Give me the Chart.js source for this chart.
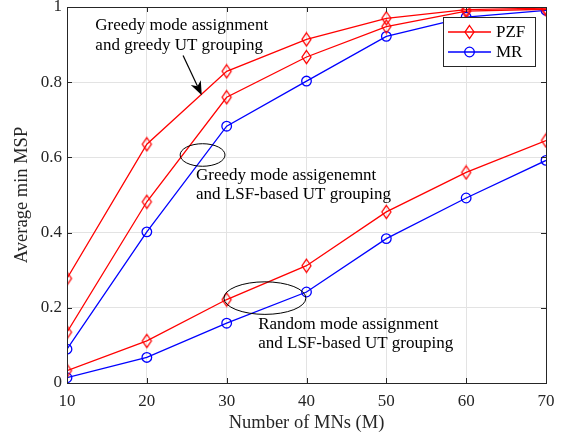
<!DOCTYPE html>
<html><head><meta charset="utf-8">
<script src="https://cdn.jsdelivr.net/npm/chart.js@4.4.0/dist/chart.umd.min.js"></script>
<style>html,body{margin:0;padding:0;background:#fff}#wrap{width:566px;height:438px}</style>
</head><body><div id="wrap"><canvas id="c" width="566" height="438"></canvas></div>
<script>
// ---- data ----
const MNs = [10, 20, 30, 40, 50, 60, 70];
const greedyGreedyPZF = [0.278, 0.635, 0.829, 0.914, 0.970, 0.993, 0.997];
const greedyLSFPZF    = [0.135, 0.482, 0.760, 0.867, 0.948, 0.989, 0.994];
const greedyLSFMR     = [0.090, 0.402, 0.683, 0.803, 0.922, 0.973, 0.991];
const randomLSFPZF    = [0.033, 0.112, 0.222, 0.312, 0.455, 0.560, 0.645];
const randomLSFMR     = [0.014, 0.068, 0.159, 0.242, 0.384, 0.492, 0.592];
const xTicks = [10, 20, 30, 40, 50, 60, 70];
const yTicks = [0, 0.2, 0.4, 0.6, 0.8, 1];
const legendLabels = ['PZF', 'MR'];
const xLabel = 'Number of MNs (M)';
const yLabel = 'Average min MSP';
const noteTexts = [
  ['Greedy mode assignment', 'and greedy UT grouping'],
  ['Greedy mode assigenemnt', 'and LSF-based UT grouping'],
  ['Random mode assignment', 'and LSF-based UT grouping']
];

// ---- styles ----
const FONT = '"Liberation Serif", "DejaVu Serif", serif';
const AXC = '#262626';
const RED = '#ff0000', BLUE = '#0000ff';

function diamondCanvas(color) {
  const c = document.createElement('canvas');
  c.width = 13; c.height = 16;
  const g = c.getContext('2d');
  g.strokeStyle = color; g.lineWidth = 1.3;
  g.beginPath();
  g.moveTo(6.5, 1.5); g.lineTo(11, 8); g.lineTo(6.5, 14.5); g.lineTo(2, 8); g.closePath();
  g.stroke();
  return c;
}
const diamondRed = diamondCanvas(RED);

function pts(vals) { return MNs.map((m, i) => ({x: m, y: vals[i]})); }
function ds(label, vals, color, marker, inLegend) {
  return {
    label, data: pts(vals), borderColor: color, backgroundColor: 'rgba(0,0,0,0)',
    borderWidth: 1.3, pointStyle: marker, pointRadius: 4.8, pointBorderWidth: 1.3,
    pointBorderColor: color, pointBackgroundColor: 'rgba(0,0,0,0)', tension: 0,
    inLegend
  };
}

const datasets = [
  ds(legendLabels[0], greedyGreedyPZF, RED, diamondRed, true),
  ds(legendLabels[0], greedyLSFPZF, RED, diamondRed, false),
  ds(legendLabels[1], greedyLSFMR, BLUE, 'circle', true),
  ds(legendLabels[0], randomLSFPZF, RED, diamondRed, false),
  ds(legendLabels[1], randomLSFMR, BLUE, 'circle', false)
];

// annotation placement (data coordinates)
const notes = {
  texts: [
    {x: 13.55, y: [0.9376, 0.8845]},
    {x: 26.16, y: [0.539, 0.489]},
    {x: 33.95, y: [0.1426, 0.0922]}
  ],
  ellipses: [
    {cx: 26.98, cy: 0.6064, rx: 2.81, ry: 0.030},
    {cx: 34.79, cy: 0.2258, rx: 5.13, ry: 0.0433}
  ],
  arrow: {x1: 24.54, y1: 0.871, x2: 26.88, y2: 0.765}
};

const overlay = {
  id: 'overlay',
  afterDatasetsDraw(chart) {
    const {ctx, chartArea: a, scales: {x, y}} = chart;
    ctx.save();
    // frame
    ctx.strokeStyle = AXC; ctx.lineWidth = 1;
    ctx.strokeRect(Math.round(a.left) + 0.5, Math.round(a.top) + 0.5,
      Math.round(a.right - a.left), Math.round(a.bottom - a.top));
    // inner ticks
    const tl = 5;
    ctx.beginPath();
    xTicks.forEach(v => {
      const px = Math.round(x.getPixelForValue(v)) + 0.5;
      ctx.moveTo(px, a.bottom); ctx.lineTo(px, a.bottom - tl);
      ctx.moveTo(px, a.top); ctx.lineTo(px, a.top + tl);
    });
    yTicks.forEach(v => {
      const py = Math.round(y.getPixelForValue(v)) + 0.5;
      ctx.moveTo(a.left, py); ctx.lineTo(a.left + tl, py);
      ctx.moveTo(a.right, py); ctx.lineTo(a.right - tl, py);
    });
    ctx.stroke();

    // annotations text
    ctx.fillStyle = '#000';
    ctx.font = '17px ' + FONT;
    ctx.textAlign = 'left'; ctx.textBaseline = 'alphabetic';
    notes.texts.forEach((t, i) => {
      noteTexts[i].forEach((line, j) => {
        ctx.fillText(line, x.getPixelForValue(t.x), y.getPixelForValue(t.y[j]));
      });
    });
    // ellipses
    ctx.strokeStyle = '#000'; ctx.lineWidth = 1;
    notes.ellipses.forEach(e => {
      const cx = x.getPixelForValue(e.cx), cy = y.getPixelForValue(e.cy);
      const rx = x.getPixelForValue(e.cx + e.rx) - cx;
      const ry = cy - y.getPixelForValue(e.cy + e.ry);
      ctx.beginPath(); ctx.ellipse(cx, cy, rx, ry, 0, 0, Math.PI * 2); ctx.stroke();
    });
    // arrow
    const ar = notes.arrow;
    const x1 = x.getPixelForValue(ar.x1), y1 = y.getPixelForValue(ar.y1);
    const x2 = x.getPixelForValue(ar.x2), y2 = y.getPixelForValue(ar.y2);
    const ang = Math.atan2(y2 - y1, x2 - x1);
    const hl = 14, hw = 5.5, back = 4;
    const ux = Math.cos(ang), uy = Math.sin(ang);
    const bx = x2 - hl * ux, by = y2 - hl * uy;
    const nx = bx + back * ux, ny = by + back * uy;
    ctx.lineWidth = 1.2;
    ctx.beginPath(); ctx.moveTo(x1, y1); ctx.lineTo(nx, ny); ctx.stroke();
    ctx.fillStyle = '#000';
    ctx.beginPath();
    ctx.moveTo(x2, y2);
    ctx.lineTo(bx + hw * uy, by - hw * ux);
    ctx.lineTo(nx, ny);
    ctx.lineTo(bx - hw * uy, by + hw * ux);
    ctx.closePath(); ctx.fill();

    // legend
    const items = chart.data.datasets.filter(d => d.inLegend);
    const lx = a.right - 103, ly = a.top + 10, lw = 92, lh = 49;
    ctx.fillStyle = '#fff';
    ctx.fillRect(lx, ly, lw, lh);
    ctx.strokeStyle = AXC; ctx.lineWidth = 1;
    ctx.strokeRect(Math.round(lx) + 0.5, Math.round(ly) + 0.5, lw, lh);
    items.forEach((d, i) => {
      const cy = ly + 15 + i * 20;
      const s0 = lx + 5, s1 = lx + 48, mx = (s0 + s1) / 2;
      ctx.strokeStyle = d.borderColor; ctx.lineWidth = d.borderWidth;
      ctx.beginPath(); ctx.moveTo(s0, cy); ctx.lineTo(s1, cy); ctx.stroke();
      if (d.pointStyle === 'circle') {
        ctx.lineWidth = d.pointBorderWidth;
        ctx.beginPath(); ctx.arc(mx, cy, d.pointRadius, 0, Math.PI * 2); ctx.stroke();
      } else {
        const im = d.pointStyle;
        ctx.drawImage(im, mx - im.width / 2, cy - im.height / 2);
      }
      ctx.fillStyle = '#000';
      ctx.font = '17px ' + FONT;
      ctx.textBaseline = 'middle'; ctx.textAlign = 'left';
      ctx.fillText(d.label, lx + 53, cy + 1);
    });
    ctx.restore();
  }
};

new Chart(document.getElementById('c'), {
  type: 'line',
  data: {datasets},
  plugins: [overlay],
  options: {
    responsive: false, animation: false, devicePixelRatio: 1,
    layout: {padding: {top: 7, right: 20, left: 0, bottom: 0}},
    plugins: {legend: {display: false}, tooltip: {enabled: false}},
    scales: {
      x: {
        type: 'linear', min: 10, max: 70,
        afterFit(s) { s.height = 55; s.paddingLeft = 0; s.paddingRight = 0; },
        afterBuildTicks(s) { s.ticks = xTicks.map(v => ({value: v})); },
        ticks: {font: {family: FONT, size: 17}, color: AXC, padding: 8, maxRotation: 0},
        grid: {color: '#e3e3e3', lineWidth: 1, drawTicks: false},
        border: {display: false},
        title: {display: true, text: xLabel, font: {family: FONT, size: 18.5}, color: AXC, padding: {top: 0, bottom: 4}}
      },
      y: {
        type: 'linear', min: 0, max: 1,
        afterFit(s) { s.width = 67; s.paddingTop = 0; s.paddingBottom = 0; },
        afterBuildTicks(s) { s.ticks = yTicks.map(v => ({value: v})); },
        ticks: {font: {family: FONT, size: 17}, color: AXC, padding: 5,
          callback: v => String(+v.toFixed(1))},
        grid: {color: '#e3e3e3', lineWidth: 1, drawTicks: false},
        border: {display: false},
        title: {display: true, text: yLabel, font: {family: FONT, size: 18.5}, color: AXC, padding: {top: 11, bottom: 0}}
      }
    }
  }
});
</script>
</body></html>
